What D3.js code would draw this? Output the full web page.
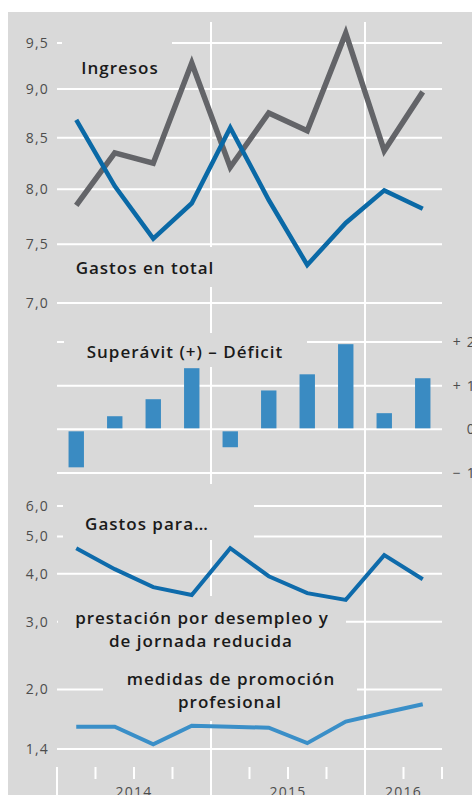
<!DOCTYPE html>
<html><head><meta charset="utf-8">
<script src="https://cdn.jsdelivr.net/npm/d3@7"></script>
<style>
html,body{margin:0;padding:0;background:#fff;overflow:hidden;}
svg{display:block;}
</style></head>
<body>
<script>
// ---- data ----
const quarters = ["2014 T1","2014 T2","2014 T3","2014 T4","2015 T1","2015 T2","2015 T3","2015 T4","2016 T1","2016 T2"];
const years = ["2014","2015","2016"];
const ingresos = [7.85, 8.35, 8.25, 9.28, 8.21, 8.75, 8.57, 9.61, 8.37, 8.97];
const gastosTotal = [8.68, 8.03, 7.55, 7.87, 8.60, 7.90, 7.32, 7.69, 7.99, 7.82];
const saldo = [-0.87, 0.30, 0.69, 1.40, -0.41, 0.89, 1.26, 1.95, 0.37, 1.17];
const prestacion = [4.66, 4.11, 3.69, 3.52, 4.66, 3.94, 3.56, 3.42, 4.47, 3.87];
const promocion = [1.60, 1.60, 1.44, 1.61, 1.60, 1.59, 1.45, 1.65, 1.74, 1.83];
const ticksTop = [7.0, 7.5, 8.0, 8.5, 9.0, 9.5];
const ticksMid = [-1, 0, 1, 2];
const ticksMidLabels = ["− 1", "0", "+ 1", "+ 2"];
const ticksBottom = [1.4, 2.0, 3.0, 4.0, 5.0, 6.0];

// ---- layout ----
const W = 472, H = 795;
const BG = "#d9d9d9";
const svg = d3.select("body").append("svg").attr("width", W).attr("height", H);
svg.append("rect").attr("x", 8).attr("y", 12).attr("width", W - 8).attr("height", H - 12).attr("fill", BG);

const x = d3.scaleBand().domain(quarters).range([57, 442]).padding(0);
const cx = q => x(q) + x.bandwidth() / 2;
const yTop = d3.scaleLog().domain([7, 9.5]).range([303, 43]);
const yMid = d3.scaleLinear().domain([-1, 2]).range([473, 342]);
const yBot = d3.scaleLog().domain([1.4, 6]).range([749, 506]);
const fmt = v => d3.format(".1f")(v).replace(".", ",");

const grid = svg.append("g").attr("stroke", "#fff").attr("stroke-width", 2);
// horizontal gridlines
function hgrid(scale, ticks) {
  grid.selectAll(null).data(ticks).enter().append("line")
    .attr("x1", 57).attr("x2", 442)
    .attr("y1", d => scale(d)).attr("y2", d => scale(d));
}
hgrid(yTop, ticksTop);
hgrid(yMid, ticksMid);
hgrid(yBot, ticksBottom);

// year separators
const yearStarts = quarters.filter((q, i) => i > 0 && q.slice(0, 4) !== quarters[i - 1].slice(0, 4));
grid.selectAll(null).data(yearStarts).enter().append("line")
  .attr("x1", d => x(d)).attr("x2", d => x(d)).attr("y1", 22).attr("y2", H);
// bottom axis ticks
const qBounds = quarters.slice(1).map(q => x(q)).concat([x.range()[1]]);
grid.selectAll(null).data(qBounds).enter().append("line")
  .attr("x1", d => d).attr("x2", d => d).attr("y1", 767).attr("y2", 779);
grid.append("line").attr("x1", 57).attr("x2", 57).attr("y1", 767).attr("y2", H);

// label masks (label backgrounds hide gridlines)
const masks = [[62, 30, 110, 50], [62, 247, 188, 40], [64, 333, 243, 34], [63, 484, 191, 56], [58, 596, 288, 64], [103, 660, 254, 61]];
svg.selectAll(null).data(masks).enter().append("rect")
  .attr("x", d => d[0]).attr("y", d => d[1]).attr("width", d => d[2]).attr("height", d => d[3]).attr("fill", BG);

// left axis labels
const axisStyle = sel => sel.attr("font-family", "'Open Sans', sans-serif").attr("font-size", 14)
  .attr("fill", "#4d4d4d").attr("letter-spacing", 1.2);
function leftLabels(scale, ticks) {
  svg.append("g").selectAll("text").data(ticks).enter().append("text")
    .attr("x", 49).attr("y", d => scale(d)).attr("dy", "0.35em").attr("text-anchor", "end")
    .text(fmt).call(axisStyle);
}
leftLabels(yTop, ticksTop);
leftLabels(yBot, ticksBottom);
// right axis labels (middle panel)
svg.append("g").selectAll("text").data(ticksMid).enter().append("text")
  .attr("x", 476).attr("y", d => yMid(d)).attr("dy", "0.35em").attr("text-anchor", "end")
  .text((d, i) => ticksMidLabels[i]).call(axisStyle);
// year labels
svg.append("g").selectAll("text").data(years).enter().append("text")
  .attr("x", yr => {
    const qs = quarters.filter(q => q.startsWith(yr));
    return (x(qs[0]) + x(qs[qs.length - 1]) + x.bandwidth()) / 2;
  })
  .attr("y", 797).attr("text-anchor", "middle").text(d => d).call(axisStyle);

// bars
svg.append("g").selectAll("rect").data(saldo).enter().append("rect")
  .attr("x", (d, i) => cx(quarters[i]) - 7.7).attr("width", 15.4)
  .attr("y", d => d >= 0 ? yMid(d) : yMid(0) + 2)
  .attr("height", d => d >= 0 ? yMid(0) - yMid(d) - 1 : yMid(d) - yMid(0) - 2)
  .attr("fill", "#3a8bc2");

// lines
function drawLine(vals, scale, color, width) {
  const line = d3.line().x((d, i) => cx(quarters[i])).y(d => scale(d));
  svg.append("path").datum(vals).attr("d", line).attr("fill", "none")
    .attr("stroke", color).attr("stroke-width", width).attr("stroke-linejoin", "miter");
}
drawLine(ingresos, yTop, "#636468", 5.5);
drawLine(gastosTotal, yTop, "#0a69a6", 4.5);
drawLine(prestacion, yBot, "#0e6bab", 4);
drawLine(promocion, yBot, "#3a8fc8", 4);

// chart labels
const labels = [
  ["Ingresos", 120, 74],
  ["Gastos en total", 145, 274],
  ["Superávit (+) – Déficit", 185, 358],
  ["Gastos para…", 147, 530],
  ["prestación por desempleo y", 202, 624],
  ["de jornada reducida", 201, 647],
  ["medidas de promoción", 231, 685],
  ["profesional", 230, 708]
];
svg.append("g").selectAll("text").data(labels).enter().append("text")
  .attr("x", d => d[1]).attr("y", d => d[2]).attr("text-anchor", "middle")
  .attr("font-family", "'Open Sans', sans-serif").attr("font-weight", 600)
  .attr("font-size", 17).attr("letter-spacing", 1.0).attr("fill", "#1a1a1a")
  .text(d => d[0]);
</script>
</body></html>
